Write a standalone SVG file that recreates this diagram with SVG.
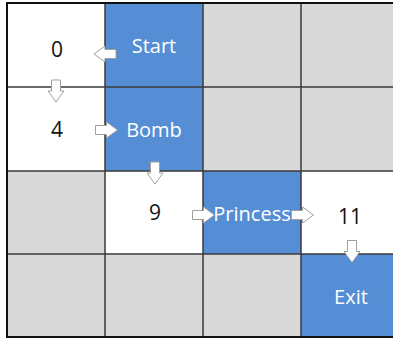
<svg xmlns="http://www.w3.org/2000/svg" xmlns:xlink="http://www.w3.org/1999/xlink" width="393" height="340" viewBox="0 0 393 340">
  <style>
    .cell-white { fill: #FFFFFF; }
    .cell-blue { fill: #558ED5; }
    .cell-gray { fill: #D9D9D9; }
    .grid { stroke: #3A3A3A; stroke-width: 1.5; fill: none; }
    .frame { stroke: #111111; stroke-width: 2; fill: none; }
    .num { font-family: "Open Sans", "Noto Sans", sans-serif; font-size: 21px; fill: #111111; text-anchor: middle; }
    .lbl { font-family: "Open Sans", "Noto Sans", sans-serif; font-size: 20px; fill: #FFFFFF; text-anchor: middle; }
    .arrow { fill: #FFFFFF; stroke: #A0A0A0; stroke-width: 1; stroke-linejoin: miter; }
  </style>
  <defs>
    <!-- block arrow pointing right, centred on the origin -->
    <path id="blockArrow" class="arrow" d="M-11,-4.5 H0 V-8 L11,0 L0,8 V4.5 H-11 Z"/>
  </defs>

  <!-- grid cells: columns at x=7,105,203,301; rows at y=3,87,171,254 -->
  <g id="cell-0">
    <rect class="cell-white" x="7" y="3" width="98" height="84"/>
    <text class="num" x="57" y="57">0</text>
  </g>
  <g id="cell-start">
    <rect class="cell-blue" x="105" y="3" width="98" height="84"/>
    <text class="lbl" x="154" y="53">Start</text>
  </g>
  <g id="cell-2"><rect class="cell-gray" x="203" y="3" width="98" height="84"/></g>
  <g id="cell-3"><rect class="cell-gray" x="301" y="3" width="92" height="84"/></g>

  <g id="cell-4">
    <rect class="cell-white" x="7" y="87" width="98" height="84"/>
    <text class="num" x="57" y="137">4</text>
  </g>
  <g id="cell-bomb">
    <rect class="cell-blue" x="105" y="87" width="98" height="84"/>
    <text class="lbl" x="154" y="137">Bomb</text>
  </g>
  <g id="cell-6"><rect class="cell-gray" x="203" y="87" width="98" height="84"/></g>
  <g id="cell-7"><rect class="cell-gray" x="301" y="87" width="92" height="84"/></g>

  <g id="cell-8"><rect class="cell-gray" x="7" y="171" width="98" height="83"/></g>
  <g id="cell-9">
    <rect class="cell-white" x="105" y="171" width="98" height="83"/>
    <text class="num" x="155" y="220">9</text>
  </g>
  <g id="cell-princess">
    <rect class="cell-blue" x="203" y="171" width="98" height="83"/>
    <text class="lbl" x="252" y="221">Princess</text>
  </g>
  <g id="cell-11">
    <rect class="cell-white" x="301" y="171" width="92" height="83"/>
    <text class="num" x="350" y="224">11</text>
  </g>

  <g id="cell-12"><rect class="cell-gray" x="7" y="254" width="98" height="83"/></g>
  <g id="cell-13"><rect class="cell-gray" x="105" y="254" width="98" height="83"/></g>
  <g id="cell-14"><rect class="cell-gray" x="203" y="254" width="98" height="83"/></g>
  <g id="cell-exit">
    <rect class="cell-blue" x="301" y="254" width="92" height="83"/>
    <text class="lbl" x="351" y="304">Exit</text>
  </g>

  <!-- grid lines -->
  <g id="grid-lines">
    <path class="grid" d="M105,3 V337 M203,3 V337 M301,3 V337 M7,87 H393 M7,171 H393 M7,254 H393"/>
    <path class="frame" d="M393,3 H7 V337 H393"/>
  </g>

  <!-- path connectors -->
  <g id="connectors">
    <use xlink:href="#blockArrow" transform="translate(105,54) rotate(180)"/>
    <use xlink:href="#blockArrow" transform="translate(56,91) rotate(90)"/>
    <use xlink:href="#blockArrow" transform="translate(106.5,130)"/>
    <use xlink:href="#blockArrow" transform="translate(155,173) rotate(90)"/>
    <use xlink:href="#blockArrow" transform="translate(203.5,215)"/>
    <use xlink:href="#blockArrow" transform="translate(302.5,215)"/>
    <use xlink:href="#blockArrow" transform="translate(352,251.5) rotate(90)"/>
  </g>
</svg>
